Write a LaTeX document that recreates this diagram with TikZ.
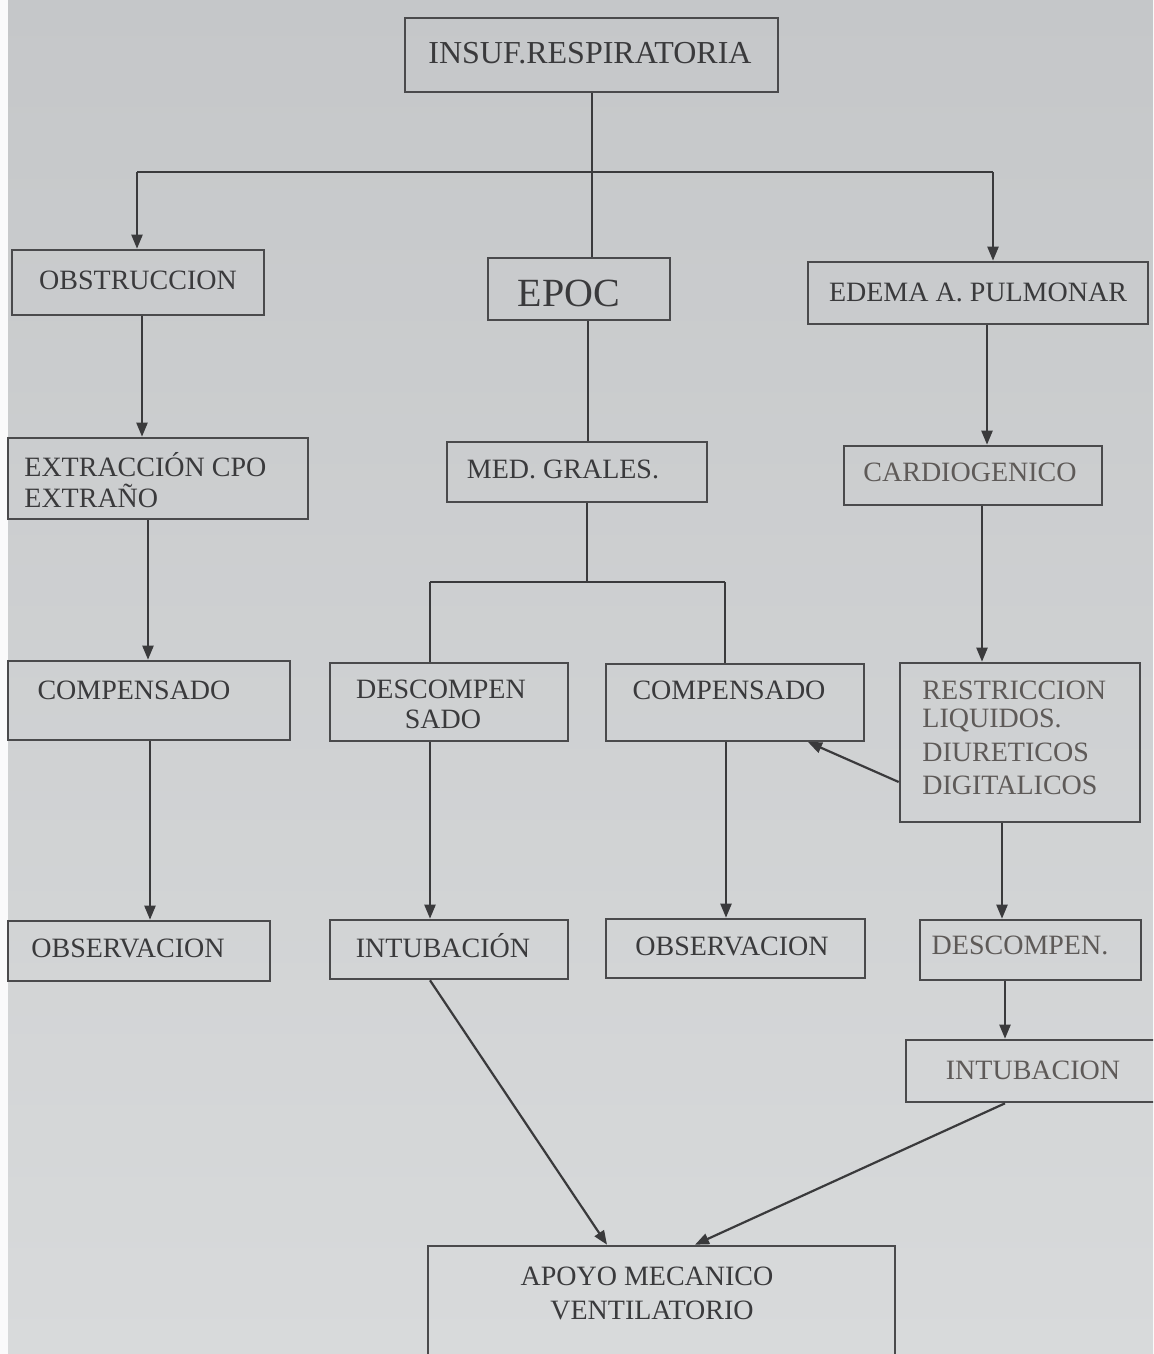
\documentclass[tikz,border=0pt]{standalone}
\usepackage{fontspec}
\setmainfont{Liberation Serif}
\usetikzlibrary{arrows.meta}
\definecolor{bgtop}{HTML}{C5C7C9}
\definecolor{bgbot}{HTML}{D8DADB}
\definecolor{ink}{HTML}{3A3A3C}
\definecolor{edge}{HTML}{4A4A4C}
\definecolor{soft}{HTML}{5E5A58}
\tikzset{
  box/.style={draw=edge, line width=1.3pt, rectangle, inner sep=0pt},
  txt/.style={text=ink, font=\fontsize{14}{16}\selectfont, inner sep=0pt, align=center},
  txtl/.style={text=ink, font=\fontsize{14}{16}\selectfont, inner sep=0pt, align=left, anchor=west},
  conn/.style={draw=ink, line width=1.1pt},
  arr/.style={conn, -{Triangle[length=7pt,width=5.5pt]}}
}
\begin{document}
\begin{tikzpicture}[x=0.5pt,y=-0.5pt]
\useasboundingbox (0,0) rectangle (1153,1354);
\shade[top color=bgtop, bottom color=bgbot] (0,0) rectangle (1153,1354);
\fill[white!92!bgtop] (0,0) rectangle (8,1354);
\begin{scope}
\clip (0,0) rectangle (1153,1354);
% boxes
\node[box, minimum width=186.5pt, minimum height=37pt] (insuf) at (591.5,55) {};
\node[txt, font=\fontsize{16}{18}\selectfont] (insuf-t) at (590,53) {INSUF.RESPIRATORIA};

\node[box, minimum width=126pt, minimum height=32.5pt] (obs) at (138,282.5) {};
\node[txt] (obs-t) at (138,280) {OBSTRUCCION};

\node[box, minimum width=91pt, minimum height=31pt] (epoc) at (579,289) {};
\node[txt, font=\fontsize{20}{22}\selectfont] (epoc-t) at (569,293) {EPOC};

\node[box, minimum width=170pt, minimum height=31pt] (edema) at (978,293) {};
\node[txt] (edema-t) at (978,292) {EDEMA A. PULMONAR};

\node[box, minimum width=150pt, minimum height=40.5pt] (extr) at (158,478.5) {};
\node[txtl] (extr-t1) at (24,465) {EXTRACCIÓN CPO};
\node[txtl] (extr-t2) at (24,496) {EXTRAÑO};

\node[box, minimum width=130pt, minimum height=30pt] (med) at (577,472) {};
\node[txt] (med-t) at (563,469) {MED. GRALES.};

\node[box, minimum width=129pt, minimum height=29.5pt] (cardio) at (973,475.5) {};
\node[txt, text=soft] (cardio-t) at (970,472) {CARDIOGENICO};

\node[box, minimum width=141pt, minimum height=39.5pt] (compL) at (149,700.5) {};
\node[txt] (compL-t) at (134,690) {COMPENSADO};

\node[box, minimum width=119pt, minimum height=39pt] (descomp) at (449,702) {};
\node[txt] (descomp-t1) at (441,689) {DESCOMPEN};
\node[txt] (descomp-t2) at (443,719) {SADO};

\node[box, minimum width=129pt, minimum height=38.5pt] (compM) at (735,702.5) {};
\node[txt] (compM-t) at (729,690) {COMPENSADO};

\node[box, minimum width=120pt, minimum height=79.5pt] (restr) at (1020,742.5) {};
\node[txtl, text=soft] (restr-t1) at (922,690) {RESTRICCION};
\node[txtl, text=soft] (restr-t2) at (922,720) {LIQUIDOS.};
\node[txtl, text=soft] (restr-t3) at (922,752) {DIURETICOS};
\node[txtl, text=soft] (restr-t4) at (922,785) {DIGITALICOS};

\node[box, minimum width=131pt, minimum height=30pt] (obsL) at (139,951) {};
\node[txt] (obsL-t) at (128,948) {OBSERVACION};

\node[box, minimum width=119pt, minimum height=29.5pt] (intub) at (449,949.5) {};
\node[txt] (intub-t) at (443,946) {INTUBACIÓN};

\node[box, minimum width=129.5pt, minimum height=29.5pt] (obsM) at (735.5,948.5) {};
\node[txt] (obsM-t) at (732,946) {OBSERVACION};

\node[box, minimum width=110.5pt, minimum height=30pt] (descR) at (1030.5,950) {};
\node[txt, text=soft] (descR-t) at (1020,945) {DESCOMPEN.};

\node[box, minimum width=127pt, minimum height=31pt] (intubR) at (1033,1071) {};
\node[txt, text=soft] (intubR-t) at (1033,1070) {INTUBACION};

\node[box, minimum width=233.5pt, minimum height=62pt] (apoyo) at (661.5,1308) {};
\node[txt] (apoyo-t1) at (647,1276) {APOYO MECANICO};
\node[txt] (apoyo-t2) at (652,1310) {VENTILATORIO};

% x positions
\coordinate (jL) at (137,172);
\coordinate (jC) at (592,172);
\coordinate (jR) at (993,172);
\coordinate (x142) at (142,0);
\coordinate (x148) at (148,0);
\coordinate (x150) at (150,0);
\coordinate (x588) at (588,0);
\coordinate (x430) at (430,0);
\coordinate (x726) at (726,0);
\coordinate (x987) at (987,0);
\coordinate (x982) at (982,0);
\coordinate (x1002) at (1002,0);
\coordinate (x1005) at (1005,0);
\coordinate (sp) at (587,582);
\coordinate (spL) at (430,582);
\coordinate (spR) at (725,582);

% connectors
\draw[conn] (insuf.south -| jC) -- (epoc.north -| jC);
\draw[conn] (jL) -- (jR);
\draw[arr] (jL) -- (obs.north -| jL);
\draw[arr] (jR) -- (edema.north -| jR);
\draw[arr] (obs.south -| x142) -- (extr.north -| x142);
\draw[arr] (extr.south -| x148) -- (compL.north -| x148);
\draw[arr] (compL.south -| x150) -- (obsL.north -| x150);
\draw[conn] (epoc.south -| x588) -- (med.north -| x588);
\draw[conn] (med.south -| sp) -- (sp);
\draw[conn] (spL) -- (spR);
\draw[conn] (spL) -- (descomp.north -| spL);
\draw[conn] (spR) -- (compM.north -| spR);
\draw[arr] (descomp.south -| x430) -- (intub.north -| x430);
\draw[arr] (compM.south -| x726) -- (obsM.north -| x726);
\draw[arr] (edema.south -| x987) -- (cardio.north -| x987);
\draw[arr] (cardio.south -| x982) -- (restr.north -| x982);
\draw[arr] (restr.west |- 0,782) -- (808,742);
\draw[arr] (restr.south -| x1002) -- (descR.north -| x1002);
\draw[arr] (descR.south -| x1005) -- (intubR.north -| x1005);
\draw[arr] (intub.south -| x430) -- (apoyo.north -| 607,0);
\draw[arr] (intubR.south -| x1005) -- (apoyo.north -| 695,0);
\end{scope}
\end{tikzpicture}
\end{document}
